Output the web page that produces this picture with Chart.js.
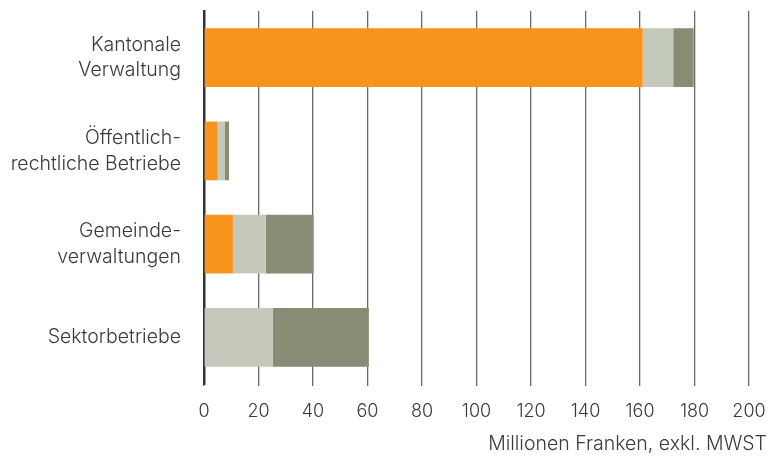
<!DOCTYPE html>
<html>
<head>
<meta charset="utf-8">
<script src="https://cdn.jsdelivr.net/npm/chart.js@4"></script>
<style>
  html, body { margin: 0; padding: 0; background: #fff; }
  #wrap { width: 777px; height: 456px; position: relative; }
</style>
</head>
<body>
<div id="wrap"><canvas id="c"></canvas></div>
<script>
// Beschaffungsvolumen nach Sektor (Mio. CHF, exkl. MWST)
const categories = [
  ['Kantonale', 'Verwaltung'],
  ['Öffentlich-', 'rechtliche Betriebe'],
  ['Gemeinde-', 'verwaltungen'],
  ['Sektorbetriebe']
];
const seriesA = [161, 5, 10.6, 0];
const seriesB = [11.2, 2.7, 12.1, 25.3];
const seriesC = [7.5, 1.5, 17.5, 35.2];
const xTicks = [0, 20, 40, 60, 80, 100, 120, 140, 160, 180, 200];
const axisTitle = 'Millionen Franken, exkl. MWST';

const FONT = 'Inter, "Liberation Sans", sans-serif';
const TEXT = '#3a3a3a';

const ds = (data, color) => ({
  data, backgroundColor: color, borderWidth: 0,
  barPercentage: 1, categoryPercentage: 0.63, yAxisID: 'y'
});

new Chart(document.getElementById('c'), {
  type: 'bar',
  data: {
    labels: categories,
    datasets: [
      ds(seriesA, '#f7941e'),
      ds(seriesB, '#c5c9bc'),
      ds(seriesC, '#868d74')
    ]
  },
  options: {
    indexAxis: 'y',
    responsive: true,
    maintainAspectRatio: false,
    animation: false,
    layout: { padding: { top: 11, right: 10, left: 0, bottom: 0 } },
    plugins: {
      legend: { display: false },
      tooltip: { enabled: false },
      title: {
        display: true,
        text: axisTitle,
        position: 'bottom',
        align: 'end',
        color: TEXT,
        font: { family: FONT, size: 19.5, weight: '300', lineHeight: 1.2 },
        padding: { top: 0, bottom: 0 }
      }
    },
    scales: {
      x: {
        type: 'linear',
        min: 0,
        max: 200,
        stacked: true,
        afterBuildTicks: s => { s.ticks = xTicks.map(v => ({ value: v })); },
        ticks: {
          autoSkip: false,
          maxRotation: 0,
          padding: 15,
          color: TEXT,
          font: { family: FONT, size: 18, weight: '300' }
        },
        grid: {
          color: '#6a6a6a',
          lineWidth: 1.3,
          drawTicks: true,
          tickLength: 2
        },
        border: { display: false },
        afterFit: s => { s.height = 48.5; s.paddingLeft = 0; s.paddingRight = 0; }
      },
      y: {
        type: 'category',
        stacked: true,
        position: 'left',
        afterFit: s => { s.width = 204; s.paddingTop = 0; s.paddingBottom = 0; },
        ticks: {
          padding: 23,
          color: TEXT,
          font: { family: FONT, size: 19.5, weight: '300', lineHeight: 1.32 }
        },
        grid: { display: false, drawTicks: false },
        border: { display: true, color: '#333', width: 2.5 }
      },
      yRight: {
        type: 'category',
        position: 'right',
        display: true,
        ticks: { display: false },
        grid: { display: false, drawTicks: false },
        border: { display: false },
        afterFit: s => { s.width = 18; s.paddingTop = 0; s.paddingBottom = 0; }
      }
    }
  }
});
</script>
</body>
</html>
